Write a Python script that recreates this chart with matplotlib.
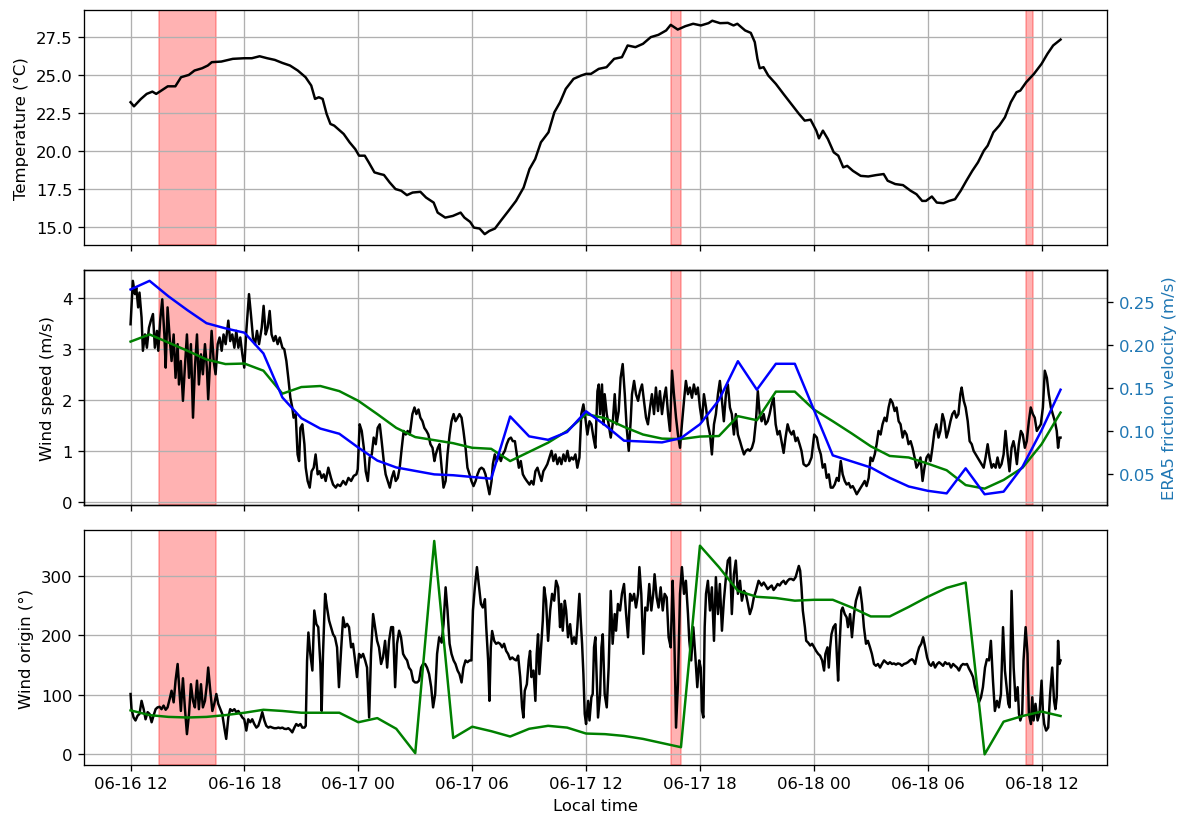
import numpy as np
import pandas as pd
import matplotlib
matplotlib.use("Agg")
import matplotlib.pyplot as plt
import matplotlib.dates as mdates

# hours since 06-16 12:00 local time
start = pd.Timestamp("2021-06-16 12:00")

# station temperature (hour, degC)
temperature = [(0.00,23.19),(0.18,22.92),(0.54,23.40),(0.85,23.74),(1.15,23.89),(1.35,23.74),(1.55,23.90),(1.96,24.24),
    (2.36,24.24),(2.66,24.84),(3.07,24.99),(3.37,25.28),(3.77,25.43),(4.07,25.61),(4.28,25.83),(4.78,25.87),(5.39,26.05),
    (5.99,26.09),(6.39,26.09),(6.80,26.22),(7.20,26.09),(7.60,25.98),(8.00,25.78),(8.40,25.61),(8.81,25.28),(9.22,24.84),
    (9.52,24.29),(9.72,23.41),(9.92,23.52),(10.12,23.41),(10.33,22.42),(10.53,21.76),(10.73,21.65),(10.93,21.43),
    (11.23,21.10),(11.54,20.55),(11.84,20.10),(12.04,19.67),(12.34,19.67),(12.55,19.23),(12.85,18.57),(13.15,18.46),
    (13.35,18.40),(13.65,17.91),(13.96,17.47),(14.26,17.36),(14.56,17.07),(14.86,17.24),(15.27,17.29),(15.57,16.91),
    (15.97,16.58),(16.18,15.92),(16.58,15.59),(16.98,15.70),(17.39,15.92),(17.59,15.59),(17.89,15.31),(18.09,14.93),
    (18.39,14.87),(18.66,14.50),(18.90,14.71),(19.20,14.87),(19.50,15.37),(19.91,16.03),(20.31,16.69),(20.71,17.57),
    (21.02,18.79),(21.32,19.45),(21.62,20.55),(22.02,21.21),(22.33,22.53),(22.63,23.19),(22.93,24.07),(23.34,24.73),
    (23.74,24.95),(24.00,25.06),(24.26,25.06),(24.67,25.39),(25.08,25.50),(25.48,26.05),(25.89,26.16),(26.19,26.93),
    (26.60,26.82),(27.00,27.04),(27.41,27.48),(27.81,27.63),(28.22,27.92),(28.46,28.29),(28.83,27.98),(29.23,28.20),
    (29.64,28.36),(30.05,28.25),(30.45,28.40),(30.65,28.56),(31.06,28.40),(31.47,28.42),(31.77,28.25),(31.97,28.36),
    (32.38,27.92),(32.68,27.76),(32.89,27.15),(33.03,26.05),(33.15,25.43),(33.35,25.50),(33.60,24.95),(34.00,24.40),
    (34.40,23.74),(34.81,23.08),(35.22,22.42),(35.52,21.98),(35.83,22.04),(36.13,21.32),(36.27,20.81),(36.48,21.32),
    (36.74,20.77),(37.05,19.89),(37.29,19.67),(37.55,18.90),(37.76,19.00),(38.06,18.67),(38.47,18.34),(38.87,18.30),
    (39.28,18.39),(39.68,18.46),(39.89,18.02),(40.29,17.80),(40.70,17.73),(41.10,17.36),(41.41,17.13),(41.71,16.69),
    (41.91,16.69),(42.22,16.98),(42.48,16.58),(42.83,16.54),(43.13,16.69),(43.44,16.80),(43.74,17.36),(44.04,18.02),
    (44.35,18.67),(44.65,19.23),(44.96,20.00),(45.16,20.33),(45.46,21.21),(45.77,21.65),(46.07,22.20),(46.38,23.19),
    (46.68,23.85),(46.88,23.96),(47.19,24.51),(47.60,25.06),(48.00,25.72),(48.31,26.38),(48.61,26.93),(49.00,27.32)]

# station wind speed (hour, m/s)
wind_speed = [(0.00,3.49),(0.12,4.34),(0.23,4.08),(0.30,4.21),(0.40,3.82),(0.47,4.11),(0.58,3.62),(0.65,2.97),(0.76,3.29),
    (0.86,3.03),(0.97,3.42),(1.07,3.56),(1.18,3.69),(1.28,3.03),(1.39,3.36),(1.46,2.97),(1.56,3.56),(1.67,3.98),(1.78,3.29),
    (1.85,2.64),(1.95,3.82),(2.06,3.23),(2.16,2.77),(2.27,3.29),(2.37,2.44),(2.48,3.10),(2.55,2.31),(2.65,2.77),(2.76,1.99),
    (2.86,2.64),(2.97,3.29),(3.08,2.44),(3.18,3.10),(3.29,1.66),(3.39,2.64),(3.50,3.29),(3.60,2.31),(3.71,2.90),(3.81,2.51),
    (3.92,3.10),(4.02,2.64),(4.09,2.02),(4.20,2.84),(4.27,3.36),(4.38,2.77),(4.48,2.51),(4.59,3.10),(4.69,3.23),(4.80,2.97),
    (4.90,3.29),(5.01,3.10),(5.15,3.56),(5.25,3.16),(5.36,3.29),(5.47,3.03),(5.57,3.36),(5.68,3.03),(5.78,3.23),(5.89,2.90),
    (5.99,2.64),(6.10,3.36),(6.24,4.08),(6.34,3.69),(6.45,3.23),(6.56,3.10),(6.66,3.36),(6.77,3.10),(6.91,3.42),(7.01,3.85),
    (7.12,3.29),(7.22,3.42),(7.33,3.75),(7.43,3.29),(7.54,3.16),(7.64,3.26),(7.75,3.10),(7.86,3.23),(8.00,3.03),(8.10,3.00),
    (8.21,2.77),(8.31,2.44),(8.42,2.05),(8.52,1.86),(8.59,1.66),(8.70,1.73),(8.80,0.94),(8.88,0.81),(8.95,1.46),(9.05,1.53),
    (9.16,1.14),(9.23,0.68),(9.33,0.42),(9.44,0.29),(9.54,0.61),(9.65,0.68),(9.75,0.94),(9.86,0.55),(9.96,0.61),(10.07,0.48),
    (10.18,0.55),(10.28,0.42),(10.42,0.68),(10.56,0.48),(10.67,0.35),(10.81,0.29),(10.91,0.35),(11.05,0.32),(11.20,0.42),
    (11.34,0.35),(11.48,0.48),(11.62,0.42),(11.76,0.52),(11.90,0.55),(11.97,0.65),(12.07,1.53),(12.18,1.40),(12.29,1.07),
    (12.39,0.61),(12.50,0.42),(12.60,0.88),(12.71,0.94),(12.81,1.27),(12.92,1.14),(13.02,1.46),(13.13,1.53),(13.23,1.20),
    (13.34,0.81),(13.44,0.55),(13.55,0.42),(13.66,0.29),(13.76,0.48),(13.87,0.61),(13.97,0.42),(14.08,0.48),(14.18,0.68),
    (14.29,1.07),(14.39,1.40),(14.50,1.33),(14.60,1.40),(14.71,1.33),(14.85,1.73),(14.96,1.86),(15.06,1.73),(15.17,1.82),
    (15.27,1.66),(15.38,1.59),(15.48,1.46),(15.59,1.40),(15.69,1.33),(15.80,1.14),(15.91,1.07),(16.01,0.81),(16.08,0.94),
    (16.19,1.07),(16.28,1.14),(16.39,0.68),(16.49,0.29),(16.60,0.42),(16.70,0.94),(16.81,1.33),(16.91,1.59),(17.02,1.73),
    (17.12,1.59),(17.23,1.66),(17.33,1.73),(17.44,1.66),(17.54,1.40),(17.65,1.07),(17.75,0.68),(17.86,0.55),(17.96,0.42),
    (18.07,0.32),(18.18,0.42),(18.28,0.55),(18.39,0.65),(18.49,0.68),(18.60,0.65),(18.70,0.55),(18.81,0.35),(18.91,0.16),
    (19.02,0.42),(19.09,0.75),(19.19,0.94),(19.30,0.81),(19.40,0.94),(19.51,0.81),(19.61,0.94),(19.72,1.01),(19.82,1.14),
    (19.93,1.24),(20.04,1.27),(20.14,1.20),(20.25,1.20),(20.35,0.94),(20.46,0.68),(20.56,0.81),(20.67,0.55),(20.77,0.48),
    (20.88,0.42),(21.02,0.35),(21.12,0.42),(21.23,0.35),(21.33,0.61),(21.44,0.68),(21.54,0.55),(21.65,0.42),(21.75,0.61),
    (21.86,0.68),(21.96,0.75),(22.07,0.88),(22.18,1.01),(22.28,0.81),(22.39,0.94),(22.49,0.75),(22.60,0.88),(22.70,0.75),
    (22.81,0.94),(22.91,0.81),(23.02,1.01),(23.12,0.81),(23.23,0.88),(23.33,0.84),(23.44,0.94),(23.54,0.68),(23.65,0.88),
    (23.75,1.73),(23.86,1.92),(23.96,1.66),(24.07,1.33),(24.18,1.59),(24.28,1.53),(24.39,1.27),(24.49,1.07),(24.60,2.18),
    (24.67,2.31),(24.74,1.73),(24.84,2.31),(24.91,1.53),(24.98,2.12),(25.09,1.73),(25.19,1.53),(25.30,1.27),(25.40,1.53),
    (25.51,2.12),(25.61,1.53),(25.72,1.79),(25.82,2.44),(25.93,2.71),(26.04,2.12),(26.14,1.46),(26.25,1.01),(26.35,1.59),
    (26.42,2.12),(26.53,2.38),(26.63,2.12),(26.74,1.99),(26.84,2.18),(26.95,2.31),(27.05,1.99),(27.16,1.66),(27.26,1.53),
    (27.37,1.86),(27.47,2.12),(27.58,1.73),(27.68,2.25),(27.79,1.79),(27.89,2.18),(28.00,1.73),(28.11,2.05),(28.21,2.25),
    (28.32,1.73),(28.42,1.40),(28.53,2.58),(28.63,2.12),(28.74,1.66),(28.84,1.33),(28.95,1.07),(29.05,1.53),(29.16,1.99),
    (29.26,2.38),(29.37,2.12),(29.47,2.25),(29.58,2.05),(29.68,2.31),(29.79,2.12),(29.89,2.25),(30.00,1.86),(30.11,1.59),
    (30.21,2.12),(30.32,1.86),(30.42,1.53),(30.53,1.33),(30.63,0.94),(30.74,1.53),(30.84,1.73),(30.95,2.12),(31.05,2.38),
    (31.16,1.99),(31.26,1.59),(31.37,2.12),(31.47,2.31),(31.58,1.86),(31.68,1.73),(31.79,1.33),(31.89,1.73),(32.00,1.33),
    (32.11,1.20),(32.21,1.07),(32.32,0.94),(32.42,1.01),(32.53,1.04),(32.63,1.01),(32.74,1.07),(32.84,1.20),(32.95,1.59),
    (33.05,2.18),(33.15,1.73),(33.25,1.59),(33.36,1.73),(33.46,1.53),(33.57,1.59),(33.67,1.73),(33.78,1.92),(33.88,2.05),
    (33.99,1.53),(34.09,1.33),(34.20,1.40),(34.30,1.20),(34.41,0.97),(34.51,1.27),(34.62,1.53),(34.72,1.40),(34.83,1.33),
    (34.93,1.40),(35.04,1.20),(35.14,1.27),(35.25,1.14),(35.35,1.01),(35.46,0.75),(35.60,0.71),(35.74,0.75),(35.88,0.88),
    (36.02,1.33),(36.16,1.27),(36.26,1.07),(36.37,0.94),(36.47,0.68),(36.58,0.75),(36.68,0.48),(36.79,0.55),(36.89,0.29),
    (37.00,0.29),(37.10,0.35),(37.21,0.48),(37.31,0.42),(37.42,0.81),(37.52,0.55),(37.63,0.42),(37.73,0.35),(37.84,0.38),
    (37.94,0.29),(38.05,0.32),(38.15,0.25),(38.26,0.16),(38.36,0.22),(38.47,0.29),(38.57,0.35),(38.68,0.42),(38.78,0.32),
    (38.89,0.48),(38.99,0.88),(39.10,0.81),(39.21,0.94),(39.31,1.14),(39.41,1.40),(39.52,1.33),(39.62,1.53),(39.73,1.66),
    (39.83,1.59),(39.94,1.86),(40.04,2.02),(40.15,1.95),(40.26,1.79),(40.36,1.86),(40.47,1.59),(40.57,1.53),(40.68,1.27),
    (40.78,1.40),(40.89,1.33),(40.99,1.14),(41.10,1.20),(41.20,1.07),(41.31,0.88),(41.41,0.68),(41.52,0.75),(41.62,0.88),
    (41.73,0.42),(41.83,0.68),(41.94,0.88),(42.04,0.94),(42.15,0.81),(42.25,1.07),(42.36,1.40),(42.46,1.53),(42.57,1.27),
    (42.67,1.40),(42.78,1.73),(42.88,1.59),(42.99,1.27),(43.09,1.40),(43.20,1.59),(43.30,1.73),(43.41,1.79),(43.51,1.66),
    (43.62,1.73),(43.72,2.12),(43.79,2.25),(43.90,1.99),(44.00,1.86),(44.11,1.59),(44.21,1.20),(44.32,1.14),(44.42,1.01),
    (44.53,0.94),(44.63,0.88),(44.74,0.81),(44.84,0.75),(44.95,0.68),(45.05,0.88),(45.16,1.14),(45.26,0.88),(45.37,0.68),
    (45.47,0.75),(45.58,0.68),(45.68,0.88),(45.79,0.68),(45.89,0.75),(46.00,0.94),(46.10,1.40),(46.21,0.94),(46.31,0.61),
    (46.42,1.07),(46.52,1.20),(46.59,1.07),(46.70,0.75),(46.80,1.14),(46.91,1.40),(47.01,1.33),(47.12,1.07),(47.22,1.20),
    (47.33,1.59),(47.43,1.86),(47.54,1.73),(47.64,1.66),(47.75,1.40),(47.85,1.46),(47.96,1.53),(48.07,1.86),(48.17,2.58),
    (48.28,2.44),(48.38,2.12),(48.49,1.86),(48.59,1.73),(48.70,1.59),(48.80,1.40),(48.87,1.07),(48.94,1.27),(49.00,1.27)]

# station wind direction (hour, degrees the wind comes from)
wind_dir = [(0.00,101.5),(0.05,76),(0.16,62),(0.26,57),(0.37,65),(0.47,68),(0.58,90),(0.69,76),(0.79,59),(0.90,71),
    (1.00,68),(1.11,54),(1.21,65),(1.32,76),(1.42,79),(1.53,80),(1.63,76),(1.74,82),(1.85,75),(1.95,79),(2.06,93),
    (2.16,107),(2.27,87.5),(2.37,124),(2.48,152),(2.55,118),(2.65,73),(2.76,128),(2.86,79),(2.97,34),(3.08,68),(3.18,118),
    (3.29,90),(3.39,79),(3.50,124),(3.60,76),(3.71,118),(3.81,79),(3.92,90),(4.02,118),(4.09,146),(4.20,107),(4.31,73),
    (4.41,85),(4.52,101.5),(4.62,85),(4.73,76),(4.83,68),(4.94,45),(5.04,26),(5.15,62),(5.25,76),(5.36,73),(5.47,76),
    (5.57,71),(5.68,73),(5.78,68),(5.89,62),(5.99,59),(6.10,40),(6.20,59),(6.31,54),(6.41,59),(6.52,51),(6.63,45),(6.73,48),
    (6.84,59),(6.94,71),(7.05,57),(7.15,48),(7.26,45),(7.36,46.5),(7.47,45),(7.57,44),(7.68,44),(7.79,45),(7.89,44),
    (8.00,45),(8.10,43),(8.21,42.6),(8.31,44),(8.42,41),(8.52,37),(8.63,45),(8.73,51),(8.84,48),(8.95,51),(9.05,45),
    (9.16,45),(9.23,48),(9.30,157.6),(9.37,205),(9.47,169),(9.58,141),(9.68,242),(9.79,219),(9.89,214),(10.00,152),
    (10.07,73),(10.14,169),(10.25,270),(10.35,247),(10.46,225),(10.56,214),(10.67,202),(10.77,197),(10.88,180),(10.98,113),
    (11.09,174),(11.20,230.5),(11.30,214),(11.41,219.5),(11.51,214),(11.62,180),(11.72,186),(11.83,158),(11.93,130),
    (12.04,169),(12.14,163),(12.25,169),(12.36,158),(12.46,146),(12.57,62),(12.67,169),(12.78,236),(12.88,214),(12.99,191),
    (13.09,180),(13.20,152),(13.30,163),(13.41,191),(13.52,146),(13.62,191),(13.73,214),(13.83,214),(13.94,113),(14.04,186),
    (14.15,208),(14.25,197),(14.36,169),(14.46,163),(14.57,158),(14.67,146),(14.78,141),(14.89,124),(14.99,121),(15.10,121),
    (15.20,124),(15.31,146),(15.41,152),(15.52,152),(15.62,146),(15.73,135),(15.84,113),(15.94,79),(16.05,101.5),
    (16.15,169),(16.26,197),(16.39,188),(16.49,219),(16.60,281),(16.70,242),(16.81,186),(16.91,169),(17.02,158),(17.12,152),
    (17.23,141),(17.33,135),(17.44,121),(17.54,146),(17.65,158),(17.75,155),(17.86,158),(17.96,158),(18.04,242),(18.14,281),
    (18.25,315),(18.35,286),(18.46,253),(18.56,247),(18.67,261),(18.74,214),(18.84,158),(18.91,90),(18.98,180),(19.05,207.5),
    (19.16,191),(19.26,186),(19.37,188),(19.47,186),(19.58,180),(19.68,186),(19.79,174),(19.89,169),(20.00,160),(20.11,163),
    (20.21,160),(20.32,158),(20.42,166),(20.53,130),(20.63,79),(20.70,62),(20.77,107),(20.88,118),(20.98,158),(21.05,174),
    (21.12,130),(21.23,141),(21.33,90),(21.40,169),(21.47,202),(21.54,135),(21.61,169),(21.72,225),(21.79,281),(21.89,258.5),
    (22.00,191),(22.11,242),(22.21,270),(22.32,258.5),(22.42,292),(22.53,281),(22.63,214),(22.70,253),(22.77,208),
    (22.88,258.5),(22.95,242),(23.05,197),(23.16,219),(23.26,186),(23.37,197),(23.47,186),(23.54,214),(23.65,270),(23.72,225),
    (23.79,186),(23.86,135),(23.93,68),(24.00,51),(24.11,90),(24.18,57),(24.28,96),(24.35,101.5),(24.42,180),(24.49,197),
    (24.56,130),(24.63,62),(24.74,101.5),(24.81,180),(24.88,202),(24.98,101.5),(25.09,79),(25.19,146),(25.30,275),(25.40,186),
    (25.51,236),(25.58,208),(25.68,253),(25.79,242),(25.89,270),(26.00,286.6),(26.11,236),(26.21,197),(26.32,270),
    (26.42,258.5),(26.53,270),(26.63,247),(26.74,270),(26.81,315),(26.91,270),(27.02,169),(27.12,247),(27.23,242),
    (27.33,286.6),(27.44,242),(27.54,270),(27.61,303),(27.72,264),(27.82,247),(27.93,281),(28.04,242),(28.14,270),(28.25,264),
    (28.35,197),(28.46,180),(28.56,292),(28.63,225),(28.70,118),(28.74,45),(28.84,118),(28.95,270),(29.05,315),(29.16,270),
    (29.26,292),(29.37,236),(29.44,191),(29.54,158),(29.65,214),(29.75,169),(29.86,113),(29.96,158),(30.04,146),(30.11,73),
    (30.18,62),(30.25,214),(30.32,270),(30.42,292),(30.53,242),(30.63,281),(30.74,191),(30.84,298),(30.95,236),(31.05,286.6),
    (31.16,208),(31.26,258.5),(31.37,298),(31.47,326),(31.58,331),(31.68,236),(31.79,303),(31.89,326),(32.00,270),(32.11,292),
    (32.21,258.5),(32.32,275),(32.42,270),(32.53,253),(32.63,236),(32.74,247),(32.84,264),(32.95,275),(33.09,292),
    (33.25,284),(33.36,289),(33.46,284),(33.57,278),(33.67,281),(33.78,284),(33.88,276.5),(33.99,281),(34.09,286.6),
    (34.20,284),(34.30,289),(34.41,292),(34.51,286.6),(34.62,292),(34.72,295),(34.83,295),(34.93,293),(35.04,298),(35.14,309),
    (35.21,317),(35.28,309),(35.35,281),(35.42,242),(35.53,214),(35.60,191),(35.70,188),(35.81,183),(35.91,186),(36.02,180),
    (36.12,174),(36.23,169),(36.33,166),(36.44,158),(36.54,141),(36.61,169),(36.72,180),(36.79,146),(36.86,180),(36.93,202),
    (37.03,214),(37.14,219),(37.21,169),(37.28,124),(37.35,180),(37.45,242),(37.52,247),(37.63,236),(37.73,230.5),(37.80,214),
    (37.91,236),(38.01,197),(38.12,236),(38.22,258.5),(38.33,270),(38.43,281),(38.54,253),(38.64,214),(38.75,186),(38.85,191),
    (38.96,180),(39.06,169),(39.17,152),(39.27,149),(39.38,152),(39.49,146),(39.59,152),(39.70,158),(39.80,155),(39.91,152),
    (40.01,155),(40.12,152),(40.22,153),(40.33,151),(40.43,153),(40.54,152),(40.64,149),(40.75,152),(40.85,153),(40.96,155),
    (41.06,158),(41.17,160),(41.24,158),(41.34,152),(41.45,169),(41.55,180),(41.66,186),(41.76,197),(41.87,180),(41.97,163),
    (42.08,152),(42.18,149),(42.29,155),(42.39,146),(42.50,152),(42.60,155),(42.71,152),(42.81,149),(42.92,155),(43.02,152),
    (43.13,153),(43.23,146),(43.34,152),(43.44,149),(43.55,146),(43.65,141),(43.76,149),(43.86,152),(43.97,151),(44.07,152),
    (44.18,144),(44.28,138),(44.39,130),(44.49,113),(44.60,101.5),(44.70,87.5),(44.81,96),(44.91,113),(45.02,146),
    (45.12,160),(45.23,158),(45.33,191),(45.44,124),(45.54,73),(45.65,90),(45.75,79),(45.86,101.5),(45.97,214),(46.07,141),
    (46.18,107),(46.25,85),(46.32,79),(46.42,275),(46.53,146),(46.63,90),(46.74,113),(46.81,68),(46.88,57),(46.98,68),
    (47.05,158),(47.16,214),(47.26,169),(47.33,68),(47.44,51),(47.51,96),(47.58,57),(47.68,85),(47.79,57),(47.89,68),
    (48.00,124),(48.07,73),(48.14,51),(48.24,40),(48.35,45),(48.45,101.5),(48.56,146),(48.66,90),(48.73,76),(48.80,96),
    (48.87,191),(48.94,152),(49.00,158)]

# hourly ERA5 reanalysis at the site
era5_hours = np.arange(50)
era5_speed = [3.15, 3.29, 3.13, 2.97, 2.80, 2.71, 2.72, 2.58, 2.13, 2.26, 2.28, 2.18, 1.99, 1.73, 1.46, 1.28, 1.22,
              1.16, 1.07, 1.05, 0.81, 0.99, 1.17, 1.40, 1.73, 1.65, 1.48, 1.33, 1.25, 1.24, 1.29, 1.30, 1.69, 1.61,
              2.17, 2.17, 1.82, 1.59, 1.35, 1.10, 0.91, 0.88, 0.76, 0.63, 0.34, 0.27, 0.44, 0.68, 1.14, 1.76]
era5_ustar = [0.264, 0.274, 0.256, 0.240, 0.225, 0.219, 0.214, 0.190, 0.139, 0.115, 0.103, 0.097, 0.081, 0.066,
              0.058, 0.054, 0.050, 0.049, 0.047, 0.045, 0.117, 0.094, 0.090, 0.099, 0.123, 0.107, 0.089, 0.088,
              0.087, 0.092, 0.108, 0.136, 0.181, 0.148, 0.178, 0.178, 0.125, 0.072, 0.065, 0.058, 0.046, 0.036,
              0.031, 0.028, 0.057, 0.027, 0.030, 0.059, 0.101, 0.148]
era5_dir = [74, 66, 63, 62, 63, 66, 70, 75, 73, 70, 70, 70, 54, 61, 43, 2, 359, 27.5, 46.5, 39, 30, 43, 48, 45, 35,
            34, 31, 26, 19, 12, 351, 315, 275, 265, 263, 258.5, 260, 260, 247, 232, 232, 248, 265, 280, 289, 0,
            55, 64.5, 72, 64.5]

# flagged periods (start hour, end hour)
flagged = [(1.5, 4.5), (28.5, 29.0), (47.2, 47.55)]


def to_time(hours):
    return start + pd.to_timedelta(np.asarray(hours, dtype=float), unit="h")


def split(pairs):
    h, v = zip(*pairs)
    return to_time(h), np.array(v)


t_temp, v_temp = split(temperature)
t_ws, v_ws = split(wind_speed)
t_wd, v_wd = split(wind_dir)
t_era = to_time(era5_hours)

fig, axes = plt.subplots(3, 1, sharex=True, figsize=(10, 6.9), dpi=118.4)
fig.subplots_adjust(left=0.071, right=0.935, top=0.9865, bottom=0.0624, hspace=0.108)

ax = axes[0]
ax.plot(t_temp, v_temp, color="black")
ax.set_ylabel("Temperature (°C)")

ax = axes[1]
ax.plot(t_ws, v_ws, color="black")
ax.plot(t_era, era5_speed, color="green")
ax.set_ylabel("Wind speed (m/s)")
axr = ax.twinx()
axr.plot(t_era, era5_ustar, color="blue")
axr.set_ylabel("ERA5 friction velocity (m/s)", color="tab:blue")
axr.tick_params(axis="y", labelcolor="tab:blue")

ax = axes[2]
ax.plot(t_wd, v_wd, color="black")
ax.plot(t_era, era5_dir, color="green")
ax.set_ylabel("Wind origin (°)")
ax.set_xlabel("Local time")

for ax in axes:
    ax.grid(True)
    for a, b in flagged:
        ax.axvspan(to_time(a), to_time(b), color="red", alpha=0.3)

axes[2].xaxis.set_major_locator(mdates.HourLocator(byhour=[0, 6, 12, 18]))
axes[2].xaxis.set_major_formatter(mdates.DateFormatter("%m-%d %H"))

fig.savefig("out.png")
